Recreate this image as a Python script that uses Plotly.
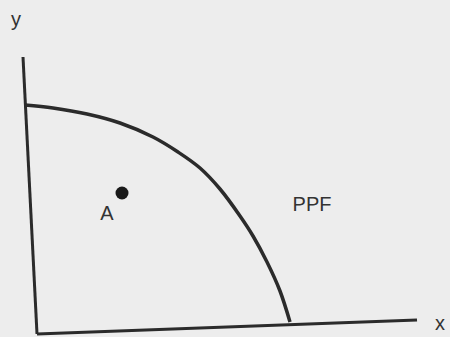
import plotly.graph_objects as go

# curve (page units, y grows downward)
ppf_x = [25, 53, 87, 120, 153, 178, 200, 220, 240, 253, 267, 280, 290]
ppf_y = [105, 108, 114, 123, 137, 152, 168, 189, 216, 236, 262, 291, 322]

# axes as drawn (slightly tilted in the scan)
yaxis_x = [23, 37]
yaxis_y = [57, 334]
xaxis_x = [37, 417]
xaxis_y = [334, 320]

point_a = (122, 193)

labels = ['y', 'x', 'A', 'PPF']
label_x = [16, 440, 107, 312]
label_y = [21, 325, 215, 206]

ink = '#2b2b2b'
bgcolor = '#ededed'

fig = go.Figure()
fig.add_trace(go.Scatter(x=yaxis_x, y=yaxis_y, mode='lines',
                         line=dict(color=ink, width=3)))
fig.add_trace(go.Scatter(x=xaxis_x, y=xaxis_y, mode='lines',
                         line=dict(color=ink, width=3)))
fig.add_trace(go.Scatter(x=ppf_x, y=ppf_y, mode='lines',
                         line=dict(color=ink, width=3.5, shape='spline', smoothing=1.0)))
fig.add_trace(go.Scatter(x=[point_a[0]], y=[point_a[1]], mode='markers',
                         marker=dict(color='#1a1a1a', size=13)))
fig.add_trace(go.Scatter(x=label_x, y=label_y, mode='text', text=labels,
                         textfont=dict(family='Liberation Sans', size=20, color='#333333')))

fig.update_layout(
    width=450, height=337,
    margin=dict(l=0, r=0, t=0, b=0),
    paper_bgcolor=bgcolor, plot_bgcolor=bgcolor,
    showlegend=False,
    hovermode=False,
    xaxis=dict(range=[0, 450], visible=False, fixedrange=True),
    yaxis=dict(range=[337, 0], visible=False, fixedrange=True),
)
fig.write_html("out.html", config={'displayModeBar': False},
               post_script="document.body.style.margin='0';")
